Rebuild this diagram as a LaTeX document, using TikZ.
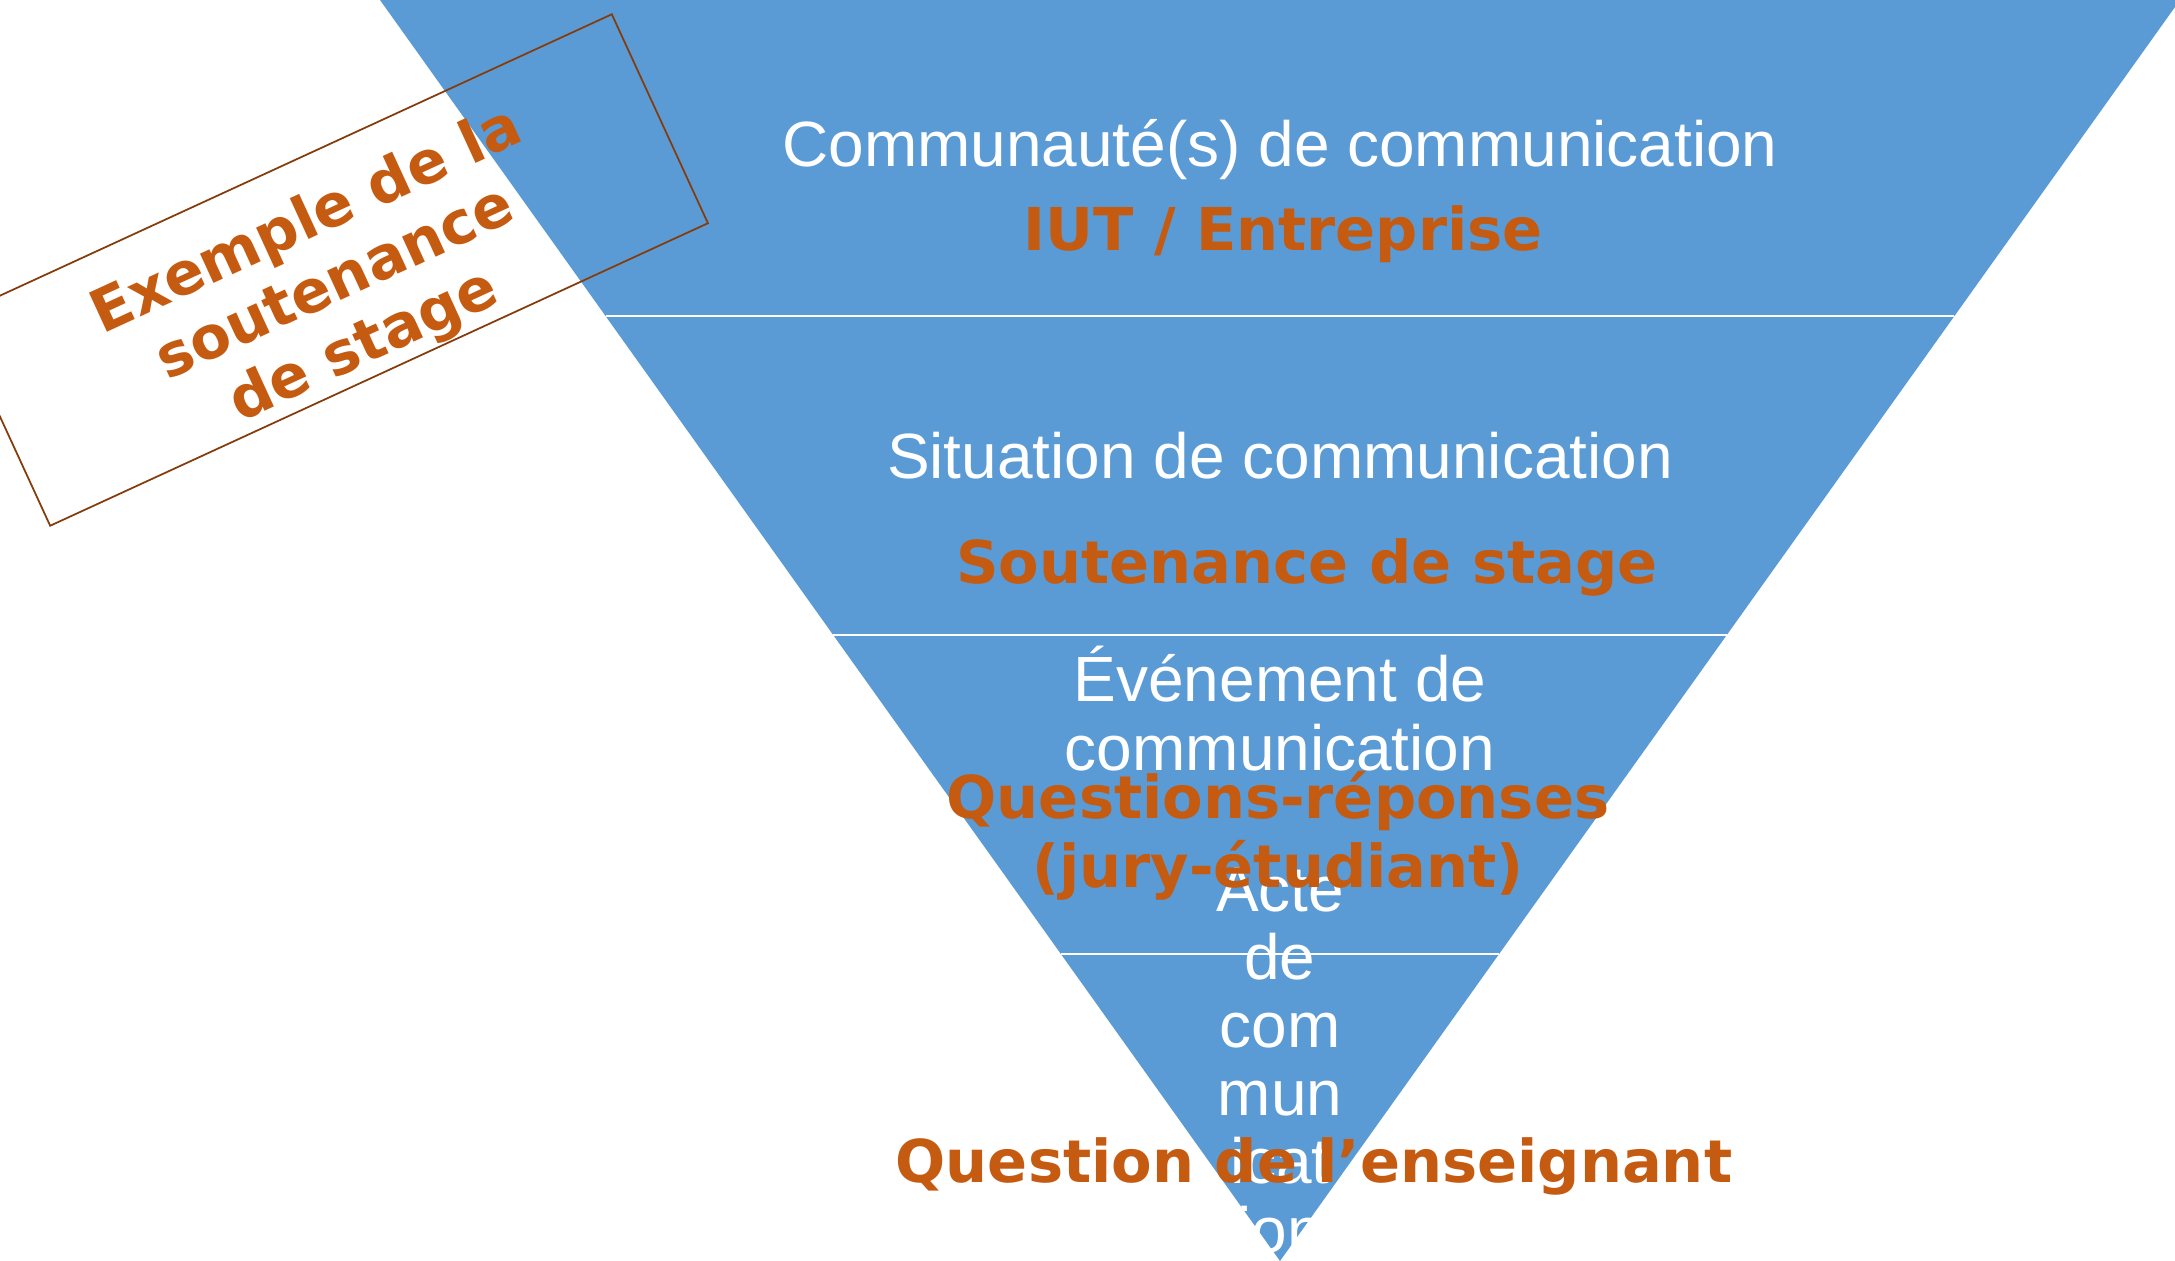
\documentclass[tikz,border=0pt]{standalone}
\usepackage{fontspec}
\setmainfont{Liberation Sans}
\newfontfamily\dejavu{DejaVu Sans}
\usetikzlibrary{calc}
\definecolor{pyrblue}{HTML}{5B9BD5}
\definecolor{pyrorange}{HTML}{C55A11}
\definecolor{boxbrown}{HTML}{843C0C}

\begin{document}
\begin{tikzpicture}[
  level/.style={text=white,font=\fontsize{18.2}{19.4}\selectfont,anchor=base,align=center,inner sep=0pt},
  example/.style={text=pyrorange,font=\dejavu\bfseries\fontsize{16.8}{19.5}\selectfont,anchor=base,align=center,inner sep=0pt},
  sep/.style={draw=white,line width=0.8pt}
]
\useasboundingbox (0,0) rectangle (21.75,-12.61);
\clip (0,0) rectangle (21.75,-12.61);

% the inverted pyramid
\coordinate (tl) at (3.80,0);
\coordinate (tr) at (21.80,0);
\coordinate (ap) at (12.80,-12.61);
\fill[pyrblue] (tl) -- (tr) -- (ap) -- cycle;
\draw[sep] ($(tl)!0.2506!(ap)$) -- ($(tr)!0.2506!(ap)$);
\draw[sep] ($(tl)!0.5036!(ap)$) -- ($(tr)!0.5036!(ap)$);
\draw[sep] ($(tl)!0.7565!(ap)$) -- ($(tr)!0.7565!(ap)$);

% levels (base = baseline of the last line)
\node[level] (communaute) at (12.80,-1.66) {Communauté(s) de communication};
\node[level] (situation) at (12.80,-4.78) {Situation de communication};
\node[level] (evenement) at (12.80,-7.70) {Événement de\\communication};
\node[level] (acte) at (12.80,-12.52) {Acte\\de\\com\\mun\\icat\\ion};

% the example
\node[example] (iut) at (12.83,-2.50) {IUT / Entreprise};
\node[example] (soutenance) at (13.07,-5.83) {Soutenance de stage};
\node[example] (questions) at (12.78,-8.87) {Questions-réponses\\(jury-étudiant)};
\node[example] (question) at (13.14,-11.82) {Question de l’enseignant};

\node[draw=boxbrown,line width=0.5pt,rotate=24.7,minimum width=7.24cm,minimum height=2.30cm] (exbox) at (3.31,-2.70) {};
\node[example,anchor=center,rotate=24.7] (exlabel) at (3.36,-2.85) {Exemple de la\\soutenance\\de stage};
\end{tikzpicture}
\end{document}
